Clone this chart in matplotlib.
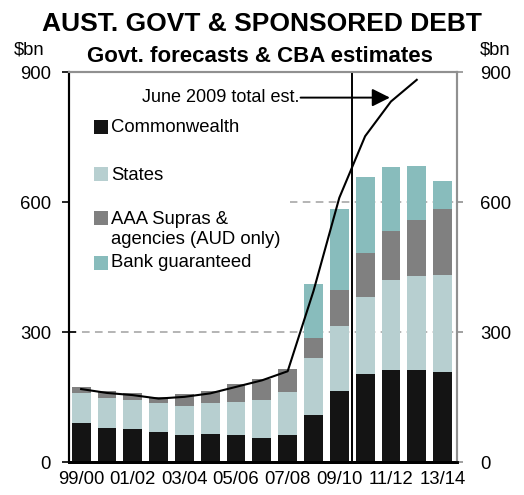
import numpy as np
import matplotlib
matplotlib.use('Agg')
import matplotlib.pyplot as plt
from matplotlib.patches import Rectangle

plt.rcParams['font.family'] = ['Liberation Sans', 'DejaVu Sans']

# Financial years
years = ['99/00', '00/01', '01/02', '02/03', '03/04', '04/05', '05/06', '06/07',
         '07/08', '08/09', '09/10', '10/11', '11/12', '12/13', '13/14']

# $bn
commonwealth = [90, 80, 76, 71, 62, 65, 62, 57, 62, 108, 164, 204, 214, 214, 208]
states = [69, 69, 67, 65, 69, 71, 77, 86, 101, 132, 150, 178, 206, 216, 224]
supras = [15, 16, 18, 15, 26, 29, 41, 50, 53, 46, 83, 101, 113, 128, 152]
bank_guar = [0, 0, 0, 0, 0, 0, 0, 0, 0, 126, 186, 174, 147, 126, 64]

# June 2009 total estimate line (99/00 to 12/13)
june09_est = [169, 160, 155, 147, 151, 159, 174, 189, 210, 395, 610, 752, 832, 882]

series = [commonwealth, states, supras, bank_guar]
labels = ['Commonwealth', 'States', 'AAA Supras &\nagencies (AUD only)', 'Bank guaranteed']
colors = ['#141414', '#b7cfd0', '#808080', '#88bcbc']
fs = 13.3

fig = plt.figure(figsize=(5.24, 4.95), dpi=100)
ax = fig.add_axes([0.1317, 0.066, 0.7395, 0.7885])

x = np.arange(len(years))
bottom = np.zeros(len(years))
for vals, col in zip(series, colors):
    ax.bar(x, vals, width=0.73, bottom=bottom, color=col, zorder=2)
    bottom += np.array(vals)

ax.plot(np.arange(len(june09_est)), june09_est, color='black', lw=1.5, zorder=4)
ax.axvline(10.5, color='black', lw=1.4, zorder=4)

ax.text(8.44, 841, 'June 2009 total est.', ha='right', va='center', fontsize=13, zorder=5)
ax.annotate('', xy=(11.96, 841), xytext=(8.5, 841),
            arrowprops=dict(arrowstyle='-|>', mutation_scale=27, lw=1.4, color='black',
                            shrinkA=0, shrinkB=0), zorder=5)

ax.set_xlim(-0.47, 14.54)
ax.set_ylim(0, 900)
ax.set_yticks([0, 300, 600, 900])
ax.set_xticks(x)
ax.set_xticklabels([y if i % 2 == 0 else '' for i, y in enumerate(years)], fontsize=fs)
ax.tick_params(axis='x', length=0, pad=6)
ax.tick_params(axis='y', direction='inout', length=10, width=1.2, color='black',
               labelsize=fs, pad=8)

axr = ax.twinx()
axr.set_ylim(0, 900)
axr.set_yticks([0, 300, 600, 900])
axr.tick_params(axis='y', direction='out', length=4, width=1.2, color='#909090',
                labelsize=fs, pad=13)

ax.yaxis.grid(True, color='#a0a0a0', lw=1.1, linestyle=(0, (5, 3.5)), zorder=0)
ax.set_axisbelow(True)

for a in (ax, axr):
    a.spines['left'].set_color('black')
    a.spines['left'].set_linewidth(1.5)
    a.spines['bottom'].set_color('black')
    a.spines['bottom'].set_linewidth(2)
    a.spines['top'].set_color('#909090')
    a.spines['top'].set_linewidth(1.5)
    a.spines['right'].set_color('#909090')
    a.spines['right'].set_linewidth(1.5)

# legend drawn by hand so the squares sit on the first text line
ax.add_patch(Rectangle((0.0, 0.48), 0.57, 0.42, transform=ax.transAxes,
                       facecolor='white', edgecolor='none', zorder=1))
leg_sq_y = [0.860, 0.739, 0.627, 0.511]
leg_txt_y = [0.857, 0.736, 0.5965, 0.511]
for col, lab, sy, ty in zip(colors, labels, leg_sq_y, leg_txt_y):
    ax.add_patch(Rectangle((0.0645, sy - 0.018), 0.036, 0.036, transform=ax.transAxes,
                           facecolor=col, edgecolor='none', zorder=5))
    ax.text(0.108, ty, lab, transform=ax.transAxes, ha='left', va='center',
            fontsize=fs, zorder=5)

fig.text(0.499, 0.951, 'AUST. GOVT & SPONSORED DEBT', ha='center', va='center',
         fontsize=19, fontweight='bold')
fig.text(0.497, 0.886, 'Govt. forecasts & CBA estimates', ha='center', va='center',
         fontsize=16, fontweight='bold')
fig.text(0.056, 0.899, '$bn', ha='center', va='center', fontsize=fs)
fig.text(0.945, 0.899, '$bn', ha='center', va='center', fontsize=fs)

fig.savefig('out.png', dpi=100)
